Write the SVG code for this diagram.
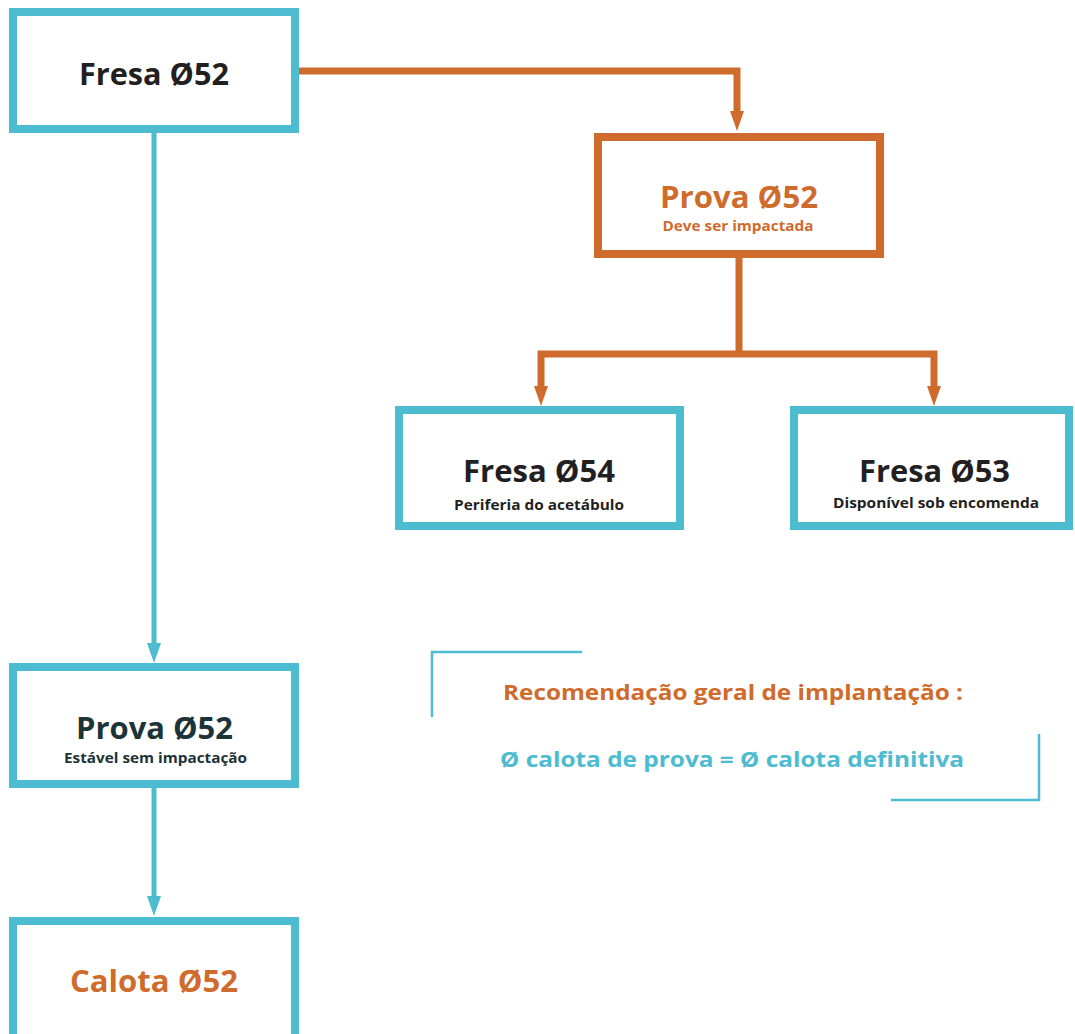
<svg xmlns="http://www.w3.org/2000/svg" width="1075" height="1034" viewBox="0 0 1075 1034">
<style>
.box{fill:#fff;stroke-width:8}
.b{stroke:#4dbbd0}
.o{stroke:#cf6b2c}
.t{font-family:"Open Sans","Liberation Sans",sans-serif;font-weight:bold;text-anchor:middle}
.big{font-size:30px}
.sub{font-size:14px}
.rec{font-size:22px;font-family:"Open Sans","Liberation Sans",sans-serif;font-weight:bold}
.dk{fill:#231f20}
.tl{fill:#1c3338}
.or{fill:#cf6b2c}
.bl{fill:#4dbbd0}
.cb{fill:none;stroke:#4dbbd0;stroke-width:5}
.co{fill:none;stroke:#cf6b2c;stroke-width:7}
.br{fill:none;stroke:#4dbbd0;stroke-width:2.5}
</style>
<defs>
<marker id="ab" markerUnits="userSpaceOnUse" viewBox="0 0 20 14" markerWidth="20" markerHeight="14" refX="0" refY="7" orient="auto-start-reverse"><path d="M0,0 L20,7 L0,14 Z" fill="#4dbbd0"/></marker>
<marker id="ao" markerUnits="userSpaceOnUse" viewBox="0 0 20 14" markerWidth="20" markerHeight="14" refX="0" refY="7" orient="auto-start-reverse"><path d="M0,0 L20,7 L0,14 Z" fill="#cf6b2c"/></marker>
</defs>
<rect width="1075" height="1034" fill="#fff"/>
<g id="connectors">
<path class="co" d="M299,71 H737 V111" marker-end="url(#ao)"/>
<path class="co" d="M739,258 V354"/>
<path class="co" d="M541,386 V354 H934 V386" marker-start="url(#ao)" marker-end="url(#ao)"/>
<path class="cb" d="M154,133 V643" marker-end="url(#ab)"/>
<path class="cb" d="M154,788 V896" marker-end="url(#ab)"/>
</g>
<g id="fresa52">
<rect class="box b" x="13" y="12" width="282" height="117"/>
<text class="t big dk" x="154" y="85" textLength="150" lengthAdjust="spacingAndGlyphs">Fresa Ø52</text>
</g>
<g id="prova52a">
<rect class="box o" x="598" y="137" width="282" height="117"/>
<text class="t big or" x="739" y="208" textLength="158" lengthAdjust="spacingAndGlyphs">Prova Ø52</text>
<text class="t sub or" x="738" y="231" style="font-size:13.5px" textLength="151" lengthAdjust="spacingAndGlyphs">Deve ser impactada</text>
</g>
<g id="fresa54">
<rect class="box b" x="399" y="410" width="281" height="116"/>
<text class="t big dk" x="539" y="482" textLength="152" lengthAdjust="spacingAndGlyphs">Fresa Ø54</text>
<text class="t sub dk" x="539" y="510" textLength="170" lengthAdjust="spacingAndGlyphs">Periferia do acetábulo</text>
</g>
<g id="fresa53">
<rect class="box b" x="794" y="410" width="275" height="116"/>
<text class="t big dk" x="934.5" y="482" textLength="151" lengthAdjust="spacingAndGlyphs">Fresa Ø53</text>
<text class="t sub dk" x="936" y="508" textLength="206" lengthAdjust="spacingAndGlyphs">Disponível sob encomenda</text>
</g>
<g id="prova52b">
<rect class="box b" x="13" y="667" width="282" height="117"/>
<text class="t big tl" x="154.5" y="739" textLength="157" lengthAdjust="spacingAndGlyphs">Prova Ø52</text>
<text class="t sub tl" x="155.5" y="763" textLength="183" lengthAdjust="spacingAndGlyphs">Estável sem impactação</text>
</g>
<g id="calota52">
<rect class="box b" x="13" y="921" width="282" height="130"/>
<text class="t big or" x="154" y="992" textLength="168" lengthAdjust="spacingAndGlyphs">Calota Ø52</text>
</g>
<g id="recomendacao">
<path class="br" d="M432,717 V652 H582"/>
<path class="br" d="M1039,734 V800 H891"/>
<text class="rec or" x="503" y="700" textLength="460" lengthAdjust="spacingAndGlyphs">Recomendação geral de implantação :</text>
<text class="rec bl" x="500" y="767" textLength="464" lengthAdjust="spacingAndGlyphs">Ø calota de prova = Ø calota definitiva</text>
</g>
</svg>
